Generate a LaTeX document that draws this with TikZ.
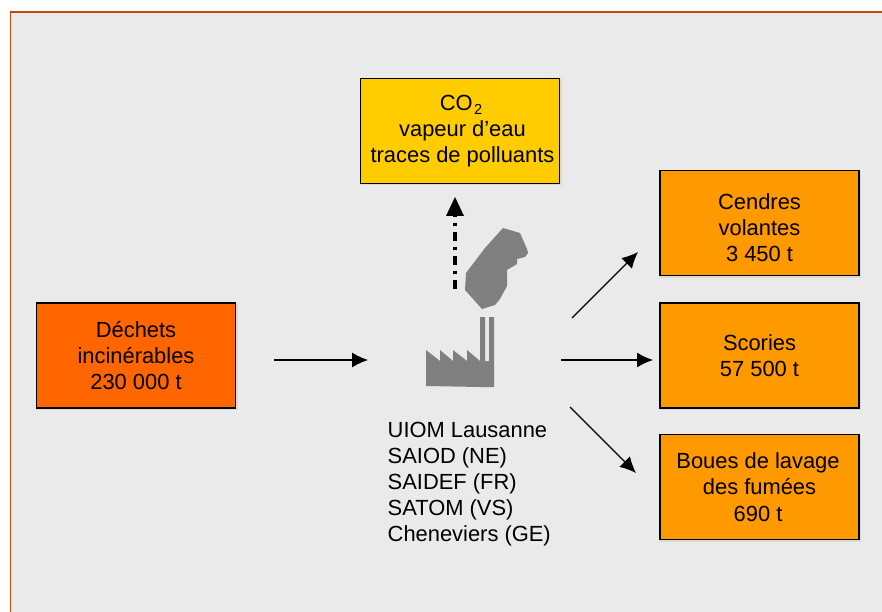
\documentclass[tikz,border=0pt]{standalone}
\usepackage{fontspec}
\setmainfont{Liberation Sans}
\usetikzlibrary{arrows.meta}
\definecolor{bgc}{HTML}{EAEAEA}
\definecolor{frame}{HTML}{C04A10}
\definecolor{hot}{HTML}{FF6600}
\definecolor{org}{HTML}{FF9900}
\definecolor{yel}{HTML}{FFCC00}
\definecolor{fac}{HTML}{808080}
\newcommand{\subtwo}{\kern1.5pt\raisebox{-4.5pt}{\fontsize{14.5}{14.5}\selectfont 2}}
\tikzset{
 x=1pt,y=-1pt,
 box/.style={draw=black,line width=1.6pt,minimum width=199pt,minimum height=105pt,align=center,inner sep=0pt,font=\fontsize{21.9}{26.3}\selectfont,
   preaction={draw=black!15,line width=1.6pt,transform canvas={xshift=1.2pt,yshift=-1.2pt}}},
 lab/.style={align=left,inner sep=0pt,anchor=north west,font=\fontsize{21.9}{26.1}\selectfont},
 flow/.style={line width=1.2pt,-{Latex[length=16pt,width=15pt]}},
 upflow/.style={line width=3.2pt,dash pattern=on 9pt off 6pt on 3pt off 6pt},
 grayshape/.style={fill=fac,draw=none},
}
\begin{document}
\begin{tikzpicture}
\useasboundingbox (0,0) rectangle (882,612);
\fill[white] (0,0) rectangle (882,612);
\fill[bgc] (10,12) rectangle (882,612);
\draw[frame,line width=1.2pt] (882,12) -- (10.5,12) -- (10.5,612);
\node[box,fill=hot] (d) at (136,355.5) {Déchets\\incinérables\\230 000 t};
\node[box,fill=yel] (c) at (460,131) {\hspace*{2pt}CO\subtwo\\\hspace*{5pt}vapeur d’eau\\\hspace*{5pt}traces de polluants};
\node[box,fill=org] (v) at (759.5,223) {\rule{0pt}{25pt}Cendres\\volantes\\3 450 t};
\node[box,fill=org] (s) at (759.5,355.5) {Scories\\57 500 t};
\node[box,fill=org] (b) at (759.5,487) {Boues de lavage\hspace*{3pt}\\des fumées\hspace*{3pt}\\690 t\hspace*{3pt}};
\node[lab] (l) at (387.5,422) {UIOM Lausanne\\SAIOD (NE)\\SAIDEF (FR)\\SATOM (VS)\\Cheneviers (GE)};
% factory
\fill[grayshape] (426,350) -- (440,361) -- (440,350) -- (453,361) -- (453,350) -- (467,361) -- (467,350) -- (480,361) -- (480,317) -- (485,317) -- (485,361) -- (489,361) -- (489,317) -- (494,317) -- (494,387) -- (489,387) -- (480,387) -- (426,386) -- cycle;
% smoke
\fill[grayshape] (503,228) -- (520,233) -- (527,249) -- (528,253) -- (525,257) -- (517,259) -- (517,264) -- (507,270) -- (507,286) -- (500,299) -- (495,305) -- (482,309) -- (465,290) -- (466,273) -- (485,248) -- cycle;
% arrows
\coordinate (f1) at (274,360);
\coordinate (f2) at (368,360);
\coordinate (o1) at (455,289);
\coordinate (o2) at (455,216);
\coordinate (o3) at (455,197);
\coordinate (p1) at (572,318);
\coordinate (p2) at (638,252);
\coordinate (q1) at (561,360);
\coordinate (q2) at (653,360);
\coordinate (r1) at (570,407);
\coordinate (r2) at (636,473);
\draw[flow] (f1) -- (f2);
\draw[flow] (p1) -- (p2);
\draw[flow] (q1) -- (q2);
\draw[flow] (r1) -- (r2);
\draw[upflow] (o1) -- (o2);
\fill (o3) -- ([xshift=9pt]o2) -- ([xshift=-9pt]o2) -- cycle;
\end{tikzpicture}
\end{document}
